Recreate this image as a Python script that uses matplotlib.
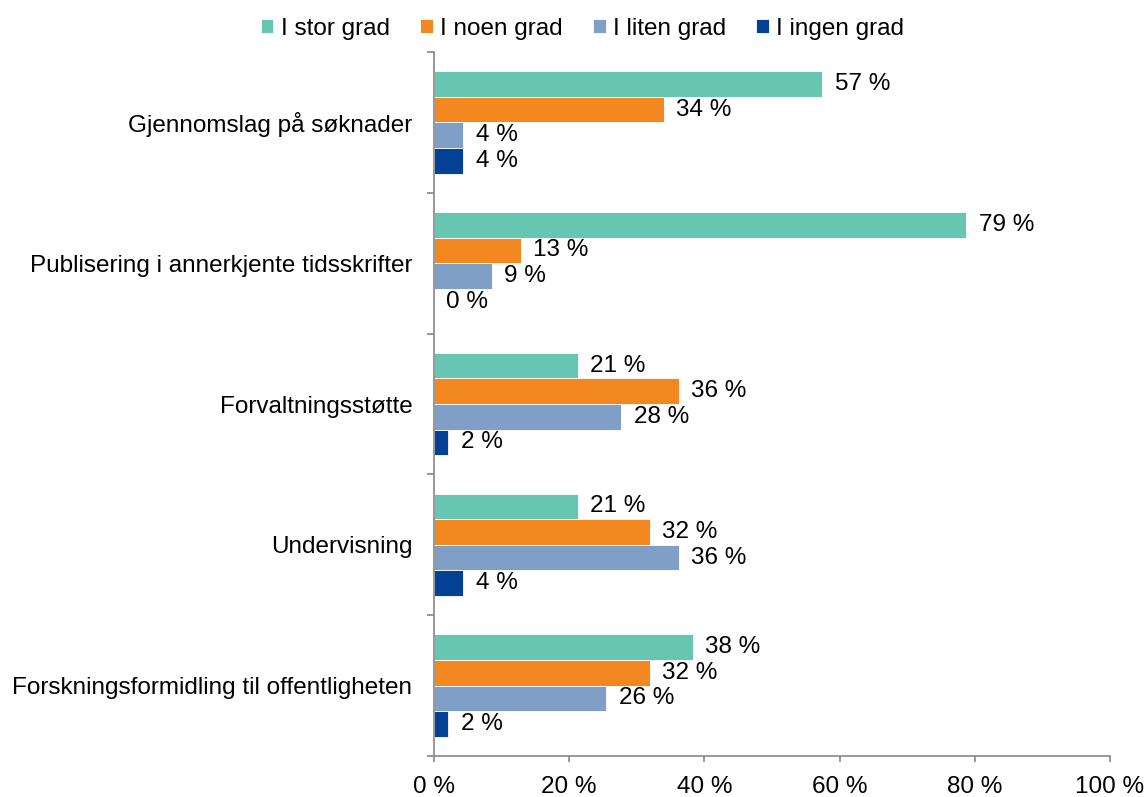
import matplotlib
matplotlib.use("Agg")
import matplotlib.pyplot as plt
import numpy as np

plt.rcParams['font.family'] = ['Liberation Sans', 'DejaVu Sans']

categories = [
    "Gjennomslag på søknader",
    "Publisering i annerkjente tidsskrifter",
    "Forvaltningsstøtte",
    "Undervisning",
    "Forskningsformidling til offentligheten",
]
series_names = ["I stor grad", "I noen grad", "I liten grad", "I ingen grad"]
stor_grad = [57.4, 78.7, 21.3, 21.3, 38.3]
noen_grad = [34.0, 12.8, 36.2, 31.9, 31.9]
liten_grad = [4.3, 8.51, 27.7, 36.2, 25.5]
ingen_grad = [4.3, 0.0, 2.1, 4.3, 2.1]
x_ticks = [0, 20, 40, 60, 80, 100]

series = [stor_grad, noen_grad, liten_grad, ingen_grad]
colors = ["#66C6B1", "#F48820", "#7F9FC7", "#034194"]
FS = 17.5

fig = plt.figure(figsize=(11.46, 7.97), dpi=100)
ax = fig.add_axes([434 / 1146, 1 - 756 / 797, (1110 - 434) / 1146, (756 - 52) / 797])

n_cat = len(categories)
bar_h = 0.182
centers = np.arange(n_cat)
for i, (vals, col, name) in enumerate(zip(series, colors, series_names)):
    y = centers + (i - 1.5) * bar_h
    ax.barh(y, vals, height=bar_h, color=col, edgecolor="white", linewidth=0.6, label=name)
    for yy, v in zip(y, vals):
        ax.annotate(f"{v:.0f} %", xy=(v, yy), xytext=(9, 0), textcoords="offset points",
                    ha="left", va="center", fontsize=FS, color="black")

ax.set_xlim(0, 100)
ax.set_ylim(n_cat - 0.5, -0.5)
ax.set_xticks(x_ticks)
ax.set_xticklabels([f"{t} %" for t in x_ticks], fontsize=FS)
ax.set_yticks(np.arange(n_cat + 1) - 0.5)
ax.set_yticklabels([])
ax.set_yticks(centers, minor=True)
ax.set_yticklabels(categories, minor=True, fontsize=FS)
ax.tick_params(axis="y", which="minor", length=0, pad=15.5)
ax.tick_params(axis="y", which="major", length=5, color="#868686", width=1.2)
ax.tick_params(axis="x", length=4.5, color="#868686", width=1.2, pad=10)

for side in ["top", "right"]:
    ax.spines[side].set_visible(False)
for side in ["left", "bottom"]:
    ax.spines[side].set_color("#868686")
    ax.spines[side].set_linewidth(1.2)

handles, labels = ax.get_legend_handles_labels()
leg = fig.legend(handles, labels, loc="center", bbox_to_anchor=(582.5 / 1146, 1 - 28.5 / 797),
                 ncol=4, frameon=False, fontsize=FS, handlelength=0.52, handleheight=0.52,
                 handletextpad=0.3, columnspacing=1.25, borderpad=0)

fig.savefig("out.png", dpi=100)
